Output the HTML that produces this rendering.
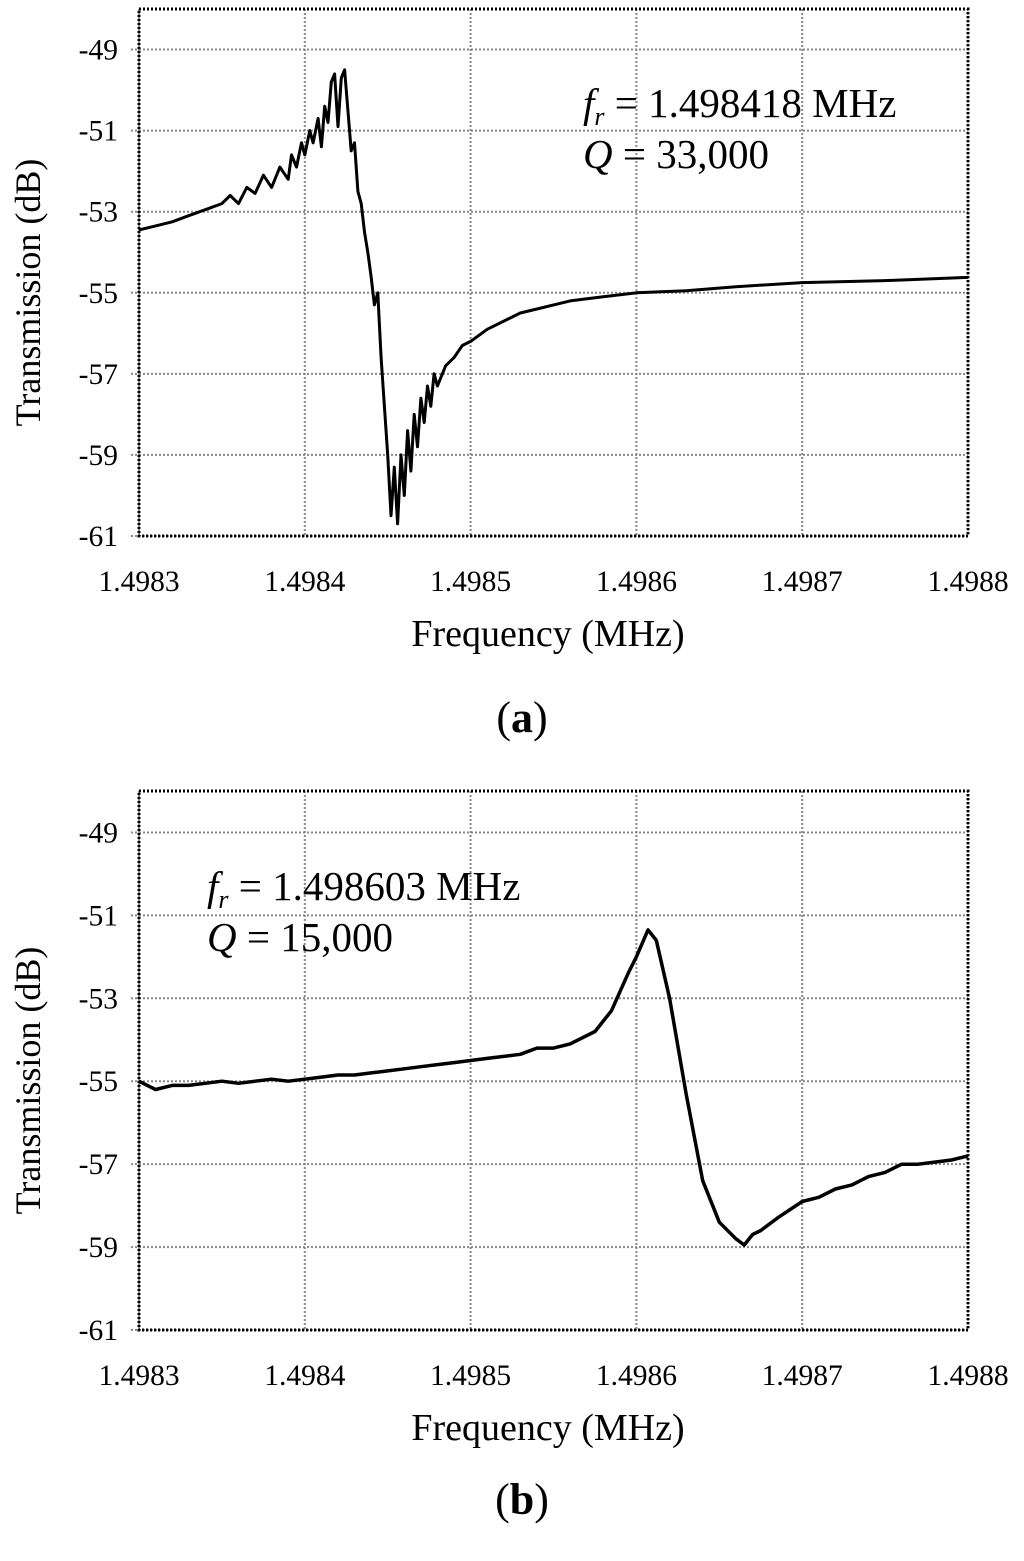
<!DOCTYPE html>
<html><head><meta charset="utf-8"><style>
body{margin:0;background:#fff}
svg{display:block;font-family:"Liberation Serif",serif}
</style></head><body>
<svg id="s" width="1024" height="1561"></svg>
<script>
const xTicks=[1.4983,1.4984,1.4985,1.4986,1.4987,1.4988];
const yTicks=[-49,-51,-53,-55,-57,-59,-61];
const aOff=[0,.1,.2,.3,.4,.5,.55,.6,.65,.7,.75,.8,.85,.9,.92,.95,.98,1.0,1.03,1.05,1.08,1.1,1.12,1.14,1.16,1.18,1.2,1.22,1.24,1.26,1.28,1.3,1.32,1.34,1.36,1.38,1.4,1.42,1.44,1.46,1.48,1.5,1.52,1.54,1.56,1.58,1.6,1.62,1.64,1.66,1.68,1.7,1.72,1.74,1.76,1.78,1.8,1.85,1.9,1.95,2.0,2.1,2.2,2.3,2.4,2.6,2.8,3.0,3.3,3.6,4.0,4.5,5.0];
const aVal=[-53.45,-53.35,-53.25,-53.1,-52.95,-52.8,-52.6,-52.8,-52.4,-52.55,-52.1,-52.4,-51.9,-52.2,-51.6,-51.9,-51.3,-51.6,-51.0,-51.3,-50.7,-51.4,-50.4,-50.8,-49.8,-49.6,-50.9,-49.7,-49.5,-50.5,-51.5,-51.3,-52.5,-52.8,-53.5,-54.0,-54.6,-55.3,-55.0,-56.6,-57.8,-59.0,-60.5,-59.3,-60.7,-59.0,-60.0,-58.4,-59.4,-58.0,-58.8,-57.6,-58.2,-57.3,-57.8,-57.0,-57.3,-56.8,-56.6,-56.3,-56.2,-55.9,-55.7,-55.5,-55.4,-55.2,-55.1,-55.0,-54.95,-54.85,-54.75,-54.7,-54.62];
const bOff=[0,.05,.1,.2,.3,.4,.5,.6,.7,.8,.9,1.0,1.1,1.2,1.3,1.4,1.5,1.6,1.7,1.8,1.9,2.0,2.1,2.2,2.3,2.4,2.5,2.6,2.75,2.85,2.95,3.0,3.07,3.12,3.2,3.3,3.4,3.5,3.6,3.65,3.7,3.75,3.85,4.0,4.1,4.2,4.3,4.4,4.5,4.6,4.7,4.8,4.9,5.0];
const bVal=[-55.0,-55.1,-55.2,-55.1,-55.1,-55.05,-55.0,-55.05,-55.0,-54.95,-55.0,-54.95,-54.9,-54.85,-54.85,-54.8,-54.75,-54.7,-54.65,-54.6,-54.55,-54.5,-54.45,-54.4,-54.35,-54.2,-54.2,-54.1,-53.8,-53.3,-52.4,-52.0,-51.35,-51.6,-53.0,-55.3,-57.4,-58.4,-58.8,-58.95,-58.7,-58.6,-58.3,-57.9,-57.8,-57.6,-57.5,-57.3,-57.2,-57.0,-57.0,-56.95,-56.9,-56.8];
const NS="http://www.w3.org/2000/svg";
const svg=document.getElementById('s');
function mk(t,a,p){const e=document.createElementNS(NS,t);for(const k in a)e.setAttribute(k,a[k]);(p||svg).appendChild(e);return e;}
function chart(cfg){
  const g=mk('g',{});
  
  
  const L=139,R=968,T=cfg.top,B=cfg.bottom;
  const xs=f=>L+(f-1.4983)/0.0005*(R-L);
  const ys=v=>B-(v+61)/13*(B-T);
  xTicks.forEach(t=>{
    const l=mk('line',{x1:xs(t),x2:xs(t),y1:T,y2:B,stroke:'#888','stroke-width':2,'stroke-dasharray':'2,2'},g);
    
    
    const tx=mk('text',{x:xs(t),y:B+55,'font-size':29.5,'text-anchor':'middle'},g);tx.textContent=t.toFixed(4);
    
    
  });
  yTicks.forEach(t=>{
    const l=mk('line',{x1:L-8,x2:R,y1:ys(t),y2:ys(t),stroke:'#888','stroke-width':2,'stroke-dasharray':'2,2'},g);
    
    
    const tx=mk('text',{x:118,y:ys(t)+10,'font-size':29.5,'text-anchor':'end'},g);tx.textContent=t;
    
    
  });
  const fr=mk('rect',{x:L,y:T,width:R-L,height:B-T,fill:'none',stroke:'#000','stroke-width':3,'stroke-dasharray':'2,2'},g);
  
  
  const d=cfg.off.map((o,i)=>(i?'L':'M')+xs(1.4983+o*1e-4).toFixed(1)+','+ys(cfg.val[i]).toFixed(1)).join('');
  const p=mk('path',{d:d,fill:'none',stroke:'#000','stroke-width':cfg.sw,'stroke-linejoin':'round'},g);
  
  
  const xt=mk('text',{x:548,y:B+110,'font-size':38,'text-anchor':'middle'},g);xt.textContent='Frequency (MHz)';
  
  
  const yc=(T+B)/2+20;
  const yt=mk('text',{x:40,y:yc,'font-size':36,'text-anchor':'middle',transform:`rotate(-90 40 ${yc})`},g);yt.textContent='Transmission (dB)';
  
  
  const a1=mk('text',{x:cfg.ax,y:cfg.ay,'font-size':41},g);
  a1.innerHTML='<tspan font-style="italic">f</tspan><tspan font-style="italic" font-size="26" dy="8">r</tspan><tspan dy="-8"> = '+cfg.fr+' MHz</tspan>';
  
  
  const a2=mk('text',{x:cfg.ax,y:cfg.ay+51,'font-size':41},g);
  a2.innerHTML='<tspan font-style="italic">Q</tspan> = '+cfg.q;
  
  
  const lb=mk('text',{x:522,y:cfg.ly,'font-size':44,'text-anchor':'middle'},g);
  lb.innerHTML='(<tspan font-weight="bold">'+cfg.label+'</tspan>)';
  
  
}
chart({name:'chart-a',top:9,bottom:536,off:aOff,val:aVal,sw:3,ax:583,ay:117,fr:'1.498418',q:'33,000',label:'a',ly:732});
chart({name:'chart-b',top:791,bottom:1330,off:bOff,val:bVal,sw:3.5,ax:207,ay:900,fr:'1.498603',q:'15,000',label:'b',ly:1514});
</script>
</body></html>
